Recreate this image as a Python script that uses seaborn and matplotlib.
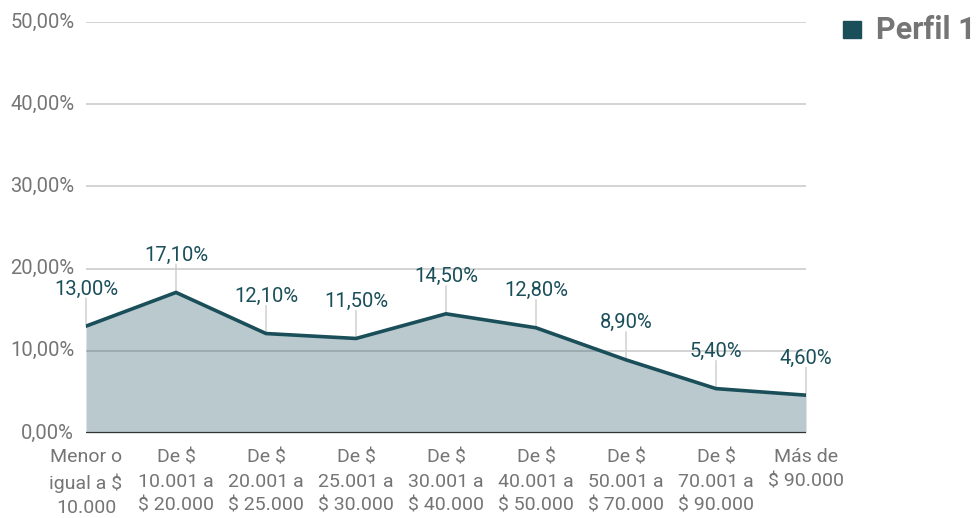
import matplotlib
matplotlib.use("Agg")
import matplotlib.pyplot as plt
import seaborn as sns
import pandas as pd
from matplotlib.patches import Rectangle

categorias = ["Menor o\nigual a $\n10.000", "De $\n10.001 a\n$ 20.000", "De $\n20.001 a\n$ 25.000",
              "De $\n25.001 a\n$ 30.000", "De $\n30.001 a\n$ 40.000", "De $\n40.001 a\n$ 50.000",
              "De $\n50.001 a\n$ 70.000", "De $\n70.001 a\n$ 90.000", "Más de\n$ 90.000"]
perfil1 = [13.0, 17.1, 12.1, 11.5, 14.5, 12.8, 8.9, 5.4, 4.6]
yticks = [0, 10, 20, 30, 40, 50]

linea = "#1a4f5a"
gris = "#757575"

sns.set_style("white")
plt.rcParams["font.family"] = ["Roboto", "DejaVu Sans"]

df = pd.DataFrame({"x": range(len(categorias)), "valor": perfil1})

fig = plt.figure(figsize=(9.76, 5.18), dpi=100)
ax = fig.add_axes([86 / 976, 1 - 433 / 518, 720 / 976, 411 / 518])

for t in yticks[1:]:
    ax.axhline(t, color="#cccccc", lw=1.2, zorder=1)

ax.fill_between(df["x"], df["valor"], 0, color=linea, alpha=0.3, lw=0, zorder=2)
sns.lineplot(data=df, x="x", y="valor", color=linea, lw=2.6, ax=ax, zorder=4)
ax.axhline(0, color="#333333", lw=1.6, zorder=5)

def fmt(v):
    return f"{v:.2f}".replace(".", ",") + "%"

for i, v in zip(df["x"], df["valor"]):
    ax.annotate("", xy=(i, v), xytext=(0, 28), textcoords="offset pixels",
                arrowprops=dict(arrowstyle="-", color="#cccccc", lw=1, shrinkA=0, shrinkB=0), zorder=3)
    ax.annotate(fmt(v), xy=(i, v), xytext=(0, 37), textcoords="offset pixels",
                ha="center", va="center", fontsize=14.5, color=linea, zorder=6)

ax.set_xlim(0, len(categorias) - 1)
ax.set_ylim(0, 50)
ax.set_yticks(yticks)
ax.set_yticklabels([fmt(t) for t in yticks], fontsize=14.5, color=gris)
ax.set_xticks(range(len(categorias)))
ax.set_xticklabels(categorias, fontsize=14, color=gris, linespacing=1.45)
ax.tick_params(axis="x", length=0, pad=11)
ax.tick_params(axis="y", length=0, pad=8.5)
for lbl in ax.get_yticklabels():
    lbl.set_verticalalignment("center")
ax.set_xlabel("")
ax.set_ylabel("")
for s in ax.spines.values():
    s.set_visible(False)

fig.patches.append(Rectangle((843 / 976, 1 - 38 / 518), 18 / 976, 17 / 518,
                             transform=fig.transFigure, color=linea, figure=fig))
fig.text(876 / 976, 1 - 30 / 518, "Perfil 1", fontsize=22, fontweight="bold",
         color=gris, va="center", ha="left")

fig.savefig("out.png", dpi=100)
